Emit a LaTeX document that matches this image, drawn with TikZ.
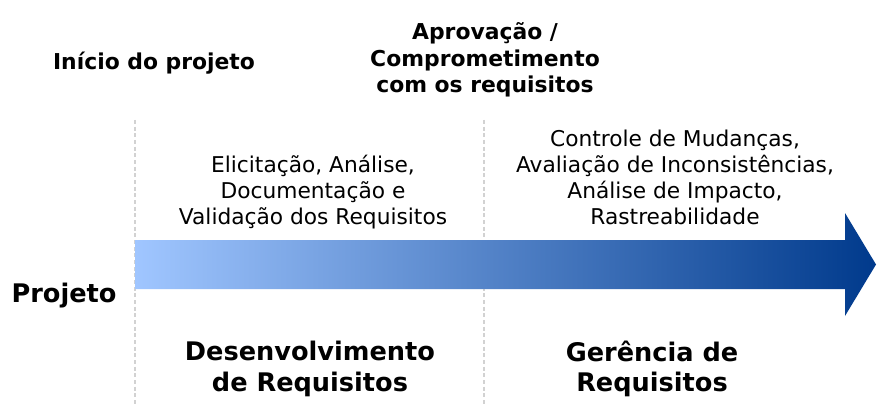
\documentclass[tikz,border=0pt]{standalone}
\usepackage{fontspec}
\setmainfont{DejaVu Sans}
\usetikzlibrary{positioning}
\definecolor{lightblue}{HTML}{A0C6FF}
\definecolor{midblue}{HTML}{4F82D0}
\definecolor{darkblue}{HTML}{003A8C}

\begin{document}
\begin{tikzpicture}[x=0.75pt,y=-0.75pt,
  milestone/.style={font=\bfseries\fontsize{16.4}{20}\selectfont,align=center},
  activity/.style={font=\fontsize{16.3}{19.5}\selectfont,align=center},
  phase/.style={font=\bfseries\fontsize{19.2}{23}\selectfont,align=center},
  marker/.style={gray!35,dash pattern=on 3pt off 2pt,line width=0.8pt}]
\useasboundingbox (0,0) rectangle (891,406);
% milestones
\coordinate (starttop) at (135,120);
\coordinate (startbot) at (135,406);
\coordinate (apptop) at (484,120);
\coordinate (appbot) at (484,406);
\draw[marker] (starttop) -- (startbot);
\draw[marker] (apptop) -- (appbot);
% arrow
\shade[left color=lightblue,middle color=midblue,right color=darkblue]
  (135,240) -- (845,240) -- (845,213) -- (876,264.5) -- (845,316) -- (845,289) -- (135,289) -- cycle;
\node[milestone] (inicio) at (154,63) {Início do projeto};
\node[milestone] (aprov) at (485,60) {Aprovação /\\Comprometimento\\com os requisitos};
\node[phase] (projeto) at (64,296) {Projeto};
\node[activity] (elic) at (313,192) {Elicitação, Análise,\\Documentação e\\Validação dos Requisitos};
\node[activity] (contr) at (675,177) {Controle de Mudanças,\\Avaliação de Inconsistências,\\Análise de Impacto,\\Rastreabilidade};
\node[phase] (desenv) at (310,369) {Desenvolvimento\\de Requisitos};
\node[phase] (gerencia) at (652,369) {Gerência de\\Requisitos};
\end{tikzpicture}
\end{document}
